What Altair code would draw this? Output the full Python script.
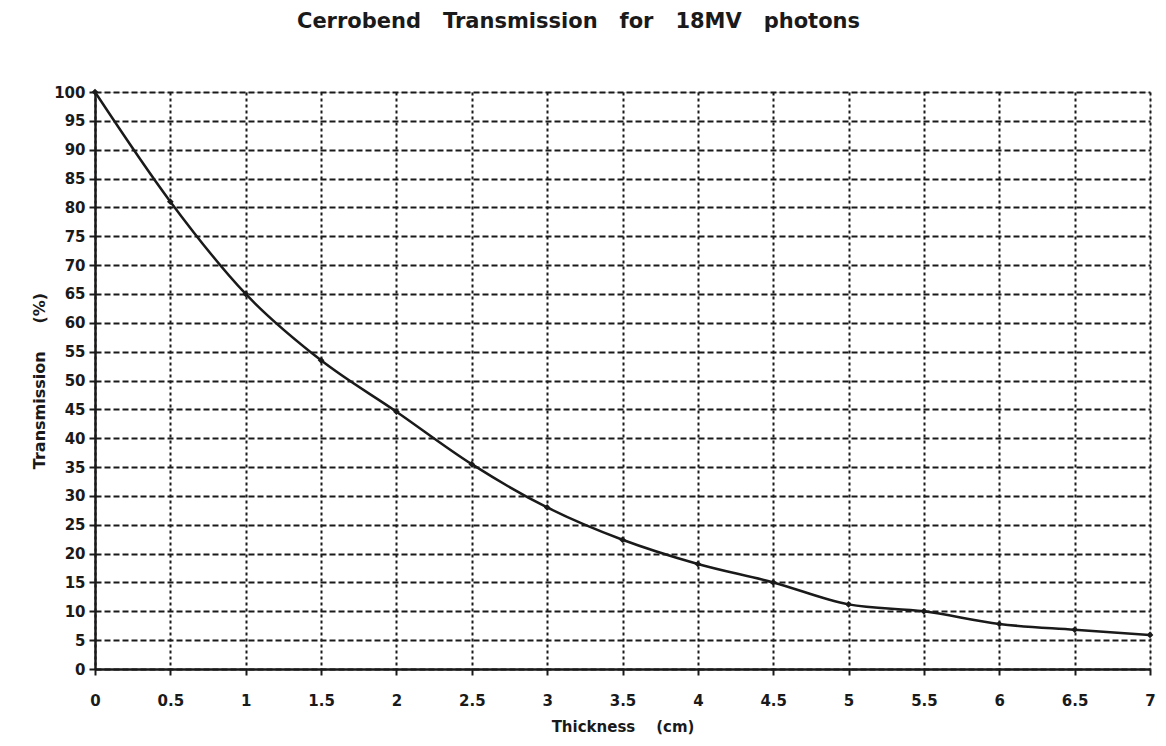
import altair as alt
import pandas as pd

thickness = [0, 0.5, 1, 1.5, 2, 2.5, 3, 3.5, 4, 4.5, 5, 5.5, 6, 6.5, 7]
transmission = [100, 81, 65, 53.5, 44.6, 35.5, 28, 22.4, 18.2, 15, 11.2, 10, 7.8, 6.8, 5.9]

x_ticks = [0, 0.5, 1, 1.5, 2, 2.5, 3, 3.5, 4, 4.5, 5, 5.5, 6, 6.5, 7]
y_ticks = list(range(0, 101, 5))

df = pd.DataFrame({"t": thickness, "tr": transmission})

FONT = "DejaVu Sans"
INK = "#1a1a1a"

x_enc = alt.X(
    "t:Q",
    scale=alt.Scale(domain=[0, 7], nice=False),
    axis=alt.Axis(
        values=x_ticks,
        format="~g",
        title="Thickness\u00a0\u00a0\u00a0\u00a0(cm)",
        titleFont=FONT, titleFontSize=15, titleFontWeight="bold", titleColor=INK,
        titlePadding=11,
        labelFont=FONT, labelFontSize=15, labelFontWeight="bold", labelColor=INK,
        labelPadding=18, labelFlush=False, labelOverlap=False,
        grid=True, gridColor=INK, gridDash=[3, 3], gridWidth=2, gridOpacity=1,
        domainColor=INK, domainWidth=2.5,
        tickColor=INK, tickWidth=2, tickSize=6,
    ),
)
y_enc = alt.Y(
    "tr:Q",
    scale=alt.Scale(domain=[0, 100], nice=False),
    axis=alt.Axis(
        values=y_ticks,
        title="Transmission\u00a0\u00a0\u00a0\u00a0\u00a0(%)",
        titleFont=FONT, titleFontSize=16, titleFontWeight="bold", titleColor=INK,
        titlePadding=6,
        labelFont=FONT, labelFontSize=15, labelFontWeight="bold", labelColor=INK,
        labelPadding=4, labelFlush=False, labelOverlap=False,
        grid=True, gridColor=INK, gridDash=[6, 3], gridWidth=2, gridOpacity=1,
        domainColor=INK, domainWidth=2.5,
        tickColor=INK, tickWidth=2, tickSize=6,
    ),
)

line = alt.Chart(df).mark_line(color=INK, strokeWidth=2.5, interpolate="monotone").encode(
    x=x_enc, y=y_enc
)
pts = alt.Chart(df).mark_point(color=INK, filled=True, shape="diamond", size=45, opacity=1).encode(
    x=x_enc, y=y_enc
)

chart = (
    alt.layer(line, pts)
    .properties(
        width=1055,
        height=577,
        title=alt.TitleParams(
            "Cerrobend\u00a0\u00a0\u00a0Transmission\u00a0\u00a0\u00a0for\u00a0\u00a0\u00a018MV\u00a0\u00a0\u00a0photons",
            font=FONT, fontSize=21, fontWeight="bold", color=INK,
            anchor="middle", dx=-44, offset=53,
        ),
        autosize=alt.AutoSizeParams(type="none"),
        padding={"left": 87, "top": 84, "right": 6, "bottom": 69},
    )
    .configure_axisY(tickCount=21)
    .configure_view(stroke=None)
    .configure(background="white")
)

chart.save("out.html", embed_options={"renderer": "svg", "actions": False})
